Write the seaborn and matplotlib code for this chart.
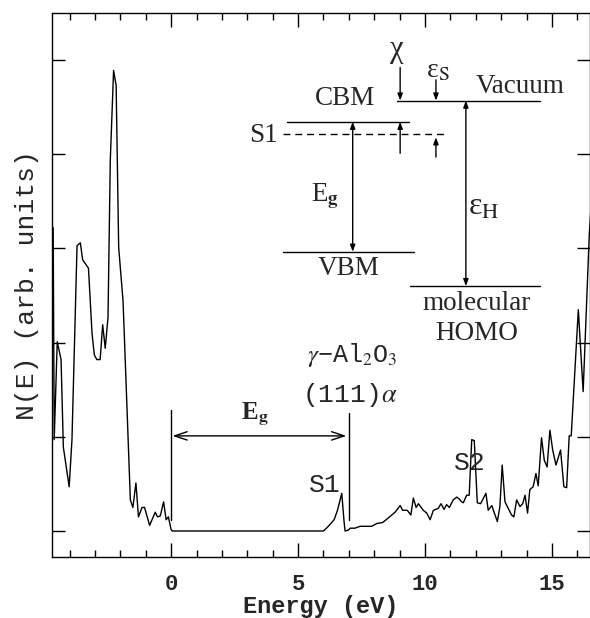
import numpy as np
import pandas as pd
import matplotlib
matplotlib.use("Agg")
import matplotlib.pyplot as plt
import seaborn as sns
from matplotlib.ticker import MultipleLocator

# spectrum (energy in eV, N(E) in arb. units)
energy = [-4.65, -4.61, -4.49, -4.34, -4.25, -4.02, -3.91, -3.71, -3.58, -3.49,
          -3.26, -3.12, -3.03, -2.93, -2.80, -2.70, -2.60, -2.49, -2.40, -2.27,
          -2.17, -2.07, -1.90, -1.85, -1.61, -1.51, -1.39, -1.29, -1.15, -1.05,
          -0.85, -0.63, -0.54, -0.43, -0.30, -0.20, -0.11, -0.01, 0.04,
          6.00, 6.19, 6.42, 6.55, 6.72, 6.81, 6.85, 6.98, 7.05, 7.24, 7.44,
          7.70, 7.90, 8.10, 8.33, 8.56, 8.82, 9.02, 9.12, 9.30, 9.44, 9.54,
          9.65, 9.74, 9.93, 10.07, 10.20, 10.33, 10.52, 10.63, 10.75, 10.85,
          10.96, 11.11, 11.25, 11.35, 11.44, 11.51, 11.64, 11.74, 11.84, 11.94,
          12.06, 12.19, 12.40, 12.49, 12.63, 12.72, 12.85, 12.95, 13.04, 13.15,
          13.28, 13.41, 13.50, 13.61, 13.74, 13.85, 13.94, 14.04, 14.13, 14.26,
          14.37, 14.46, 14.59, 14.70, 14.81, 14.92, 15.03, 15.16, 15.34, 15.47,
          15.58, 15.68, 15.76, 16.04, 16.23, 16.47, 16.60]
dos = [3.22, 0.97, 2.01, 1.82, 0.89, 0.47, 0.97, 3.03, 3.06, 2.88,
       2.79, 2.10, 1.87, 1.82, 1.82, 2.19, 1.94, 2.27, 3.94, 4.89,
       4.73, 3.01, 2.45, 2.10, 0.33, 0.25, 0.51, 0.15, 0.25, 0.25,
       0.06, 0.20, 0.15, 0.16, 0.31, 0.12, 0.15, 0.02, 0.00,
       0.00, 0.05, 0.12, 0.22, 0.40, 0.10, 0.00, 0.01, 0.03, 0.03, 0.05,
       0.05, 0.05, 0.08, 0.09, 0.14, 0.20, 0.27, 0.22, 0.22, 0.17, 0.35,
       0.25, 0.29, 0.22, 0.19, 0.12, 0.22, 0.24, 0.29, 0.23, 0.28,
       0.25, 0.33, 0.36, 0.34, 0.31, 0.30, 0.38, 0.38, 0.97, 0.96,
       0.30, 0.29, 0.40, 0.22, 0.27, 0.20, 0.10, 0.26, 0.70, 0.31,
       0.24, 0.17, 0.15, 0.33, 0.26, 0.29, 0.38, 0.19, 0.44, 0.47,
       0.61, 0.48, 0.99, 0.75, 0.68, 1.07, 0.86, 0.70, 0.86, 0.47,
       0.46, 1.01, 1.01, 2.35, 1.48, 3.14, 3.70]

x_major = [0, 5, 10, 15]
y_ticks = [0, 1, 2, 3, 4, 5]
gap = 7.0  # band gap marker (eV)

df = pd.DataFrame({"E": energy, "N": dos})

sns.set_style("ticks")
plt.rcParams["mathtext.fontset"] = "stix"
MONO = ["Liberation Mono", "DejaVu Sans Mono"]
SERIF = ["Liberation Serif", "DejaVu Serif"]
LBL = 19.5  # diagram label size

fig = plt.figure(figsize=(5.9, 6.18), dpi=100)
ax = fig.add_axes([0.088, 0.0987, 0.912, 0.8803])

sns.lineplot(data=df, x="E", y="N", ax=ax, color="black", linewidth=1.0,
             sort=False, estimator=None)

ax.set_xlim(-4.7, 16.5)
ax.set_ylim(-0.276, 5.5)
ax.set_xticks(x_major)
ax.xaxis.set_minor_locator(MultipleLocator(1))
ax.set_yticks(y_ticks)
ax.set_yticklabels([])
ax.tick_params(which="both", direction="in", top=True, right=True,
               color="black", width=1.0)
ax.tick_params(axis="x", which="major", length=10, pad=12)
ax.tick_params(axis="x", which="minor", length=5)
ax.tick_params(axis="y", which="major", length=9.5)
for lab in ax.get_xticklabels():
    lab.set_family(MONO)
    lab.set_fontweight("bold")
    lab.set_fontsize(16)
for sp in ax.spines.values():
    sp.set_linewidth(1.0)
    sp.set_color("black")

ax.set_xlabel("Energy (eV)", family=MONO, fontweight="bold", fontsize=17,
              labelpad=0)
ax.set_ylabel("N(E) (arb. units)", family=MONO, fontsize=19, labelpad=6)

# band gap markers in the spectrum
ax.plot([0, 0], [0.12, 1.28], color="black", lw=1.0)
ax.plot([gap, gap], [0.12, 1.25], color="black", lw=1.0)
ax.annotate("", xy=(0.05, 1.01), xytext=(6.9, 1.01),
            arrowprops=dict(arrowstyle="<->,head_length=0.9,head_width=0.3",
                            lw=1.0, color="black", shrinkA=0, shrinkB=0))
ax.text(3.3, 1.25, r"E$_\mathbf{g}$", family=SERIF, fontweight="bold",
        fontsize=18, ha="center", va="center")
ax.text(6.06, 0.49, "S1", family=MONO, fontsize=19, ha="center", va="center")
ax.text(11.77, 0.72, "S2", family=MONO, fontsize=19, ha="center", va="center")
ax.text(7.13, 1.87, "$\\gamma$\u2212Al$_2$O$_3$", family=MONO, fontsize=18,
        ha="center", va="center")
ax.text(7.05, 1.44, r"(111)$\alpha$", family=MONO, fontsize=19,
        ha="center", va="center")

# energy level diagram
ax.plot([4.55, 9.38], [4.345, 4.345], color="black", lw=1.0)
ax.plot([4.42, 10.85], [4.21, 4.21], color="black", lw=1.0, ls=(0, (5, 3.5)))
ax.plot([4.42, 9.57], [2.965, 2.965], color="black", lw=1.0)
ax.plot([8.89, 14.53], [4.57, 4.57], color="black", lw=1.0)
ax.plot([9.41, 14.53], [2.60, 2.60], color="black", lw=1.0)

dbl = dict(arrowstyle="<|-|>,head_length=0.4,head_width=0.15", lw=1.0,
           color="black", shrinkA=0, shrinkB=0)
one = dict(arrowstyle="-|>,head_length=0.4,head_width=0.15", lw=1.0,
           color="black", shrinkA=0, shrinkB=0)
ax.annotate("", xy=(7.15, 4.345), xytext=(7.15, 2.965), arrowprops=dbl)
ax.annotate("", xy=(11.61, 4.57), xytext=(11.61, 2.60), arrowprops=dbl)
ax.annotate("", xy=(9.02, 4.57), xytext=(9.02, 4.92), arrowprops=one)
ax.annotate("", xy=(9.02, 4.345), xytext=(9.02, 4.01), arrowprops=one)
ax.annotate("", xy=(10.43, 4.57), xytext=(10.43, 4.79), arrowprops=one)
ax.annotate("", xy=(10.43, 4.18), xytext=(10.43, 3.97), arrowprops=one)

ax.text(6.85, 4.59, "CBM", family=SERIF, fontsize=LBL, ha="center", va="center")
ax.text(4.20, 4.20, "S1", family=SERIF, fontsize=LBL, ha="right", va="center")
ax.text(6.98, 2.79, "VBM", family=SERIF, fontsize=LBL, ha="center", va="center")
ax.text(6.06, 3.55, r"E$_\mathbf{g}$", family=SERIF, fontsize=LBL,
        ha="center", va="center")
ax.text(13.74, 4.72, "Vacuum", family=SERIF, fontsize=LBL, ha="center",
        va="center")
ax.text(12.04, 2.42, "molecular", family=SERIF, fontsize=LBL, ha="center",
        va="center")
ax.text(12.04, 2.10, "HOMO", family=SERIF, fontsize=LBL, ha="center",
        va="center")
ax.text(12.30, 3.44, r"ε$_\mathrm{H}$", family=SERIF, fontsize=23,
        ha="center", va="center")
ax.text(8.90, 5.11, "χ", family=SERIF, fontsize=22, ha="center", va="center")
ax.text(10.51, 4.88, r"ε$_\mathrm{S}$", family=SERIF, fontsize=20,
        ha="center", va="center")

fig.savefig("out.png", dpi=100)
